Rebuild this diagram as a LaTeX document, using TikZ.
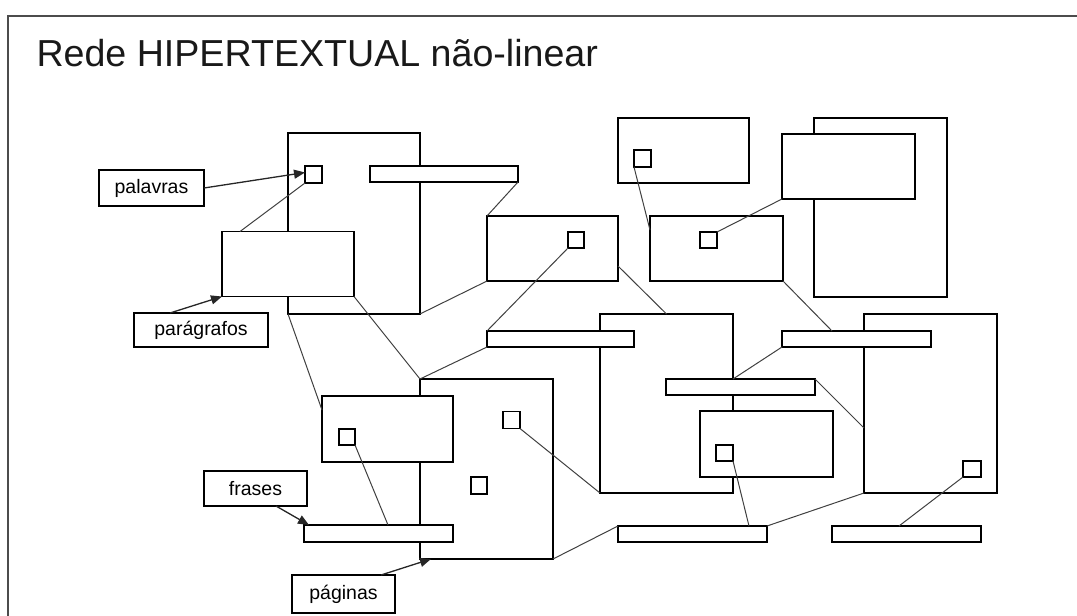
\documentclass[tikz,border=0pt]{standalone}
\usepackage{fontspec}
\setmainfont{Liberation Sans}
\usetikzlibrary{arrows.meta,calc}
\tikzset{
  shp/.style={draw=black, fill=white, line width=1.5pt, inner sep=0pt, outer sep=0pt},
  pagebox/.style={shp, minimum width=133pt, minimum height=180pt},
  parbox/.style={shp, minimum width=132pt, minimum height=65pt},
  bar/.style={shp, minimum width=148pt, minimum height=16pt},
  sq/.style={shp, minimum width=17pt, minimum height=17pt},
  lbl/.style={shp, font=\fontsize{19.5}{22}\selectfont},
  link/.style={draw=black!75, line width=1pt},
  ptr/.style={draw=black!85, line width=1.3pt, -{Triangle[length=11pt,width=9pt]}},
}
\begin{document}
\begin{tikzpicture}[x=1pt,y=-1pt]
\useasboundingbox (0,0) rectangle (1077,616);
\begin{scope}
\clip (0,0) rectangle (1077,616);
\draw[draw=black!70, line width=2pt] (7.5,15.5) rectangle (1100,640);
\end{scope}
\node[anchor=base west, font=\fontsize{37.6}{42}\selectfont, text=black!90] (title) at (33,66) {Rede HIPERTEXTUAL não-linear};

% page boxes
\node[pagebox, minimum width=132pt, minimum height=181pt] (A) at (354,223.5) {};
\node[pagebox, minimum height=179pt] (Q) at (880.5,207.5) {};
\node[pagebox, minimum height=179pt] (D) at (666.5,403.5) {};
\node[pagebox, minimum height=179pt] (L) at (930.5,403.5) {};
\node[pagebox] (E) at (486.5,469) {};

% paragraph boxes
\node[parbox] (parA) at (288,264) {};
\node[parbox, minimum width=131pt] (B) at (552.5,248.5) {};
\node[parbox, minimum width=131pt] (N) at (683.5,150.5) {};
\node[parbox, minimum width=133pt] (O) at (716.5,248.5) {};
\node[parbox, minimum width=133pt] (P) at (848.5,166.5) {};
\node[parbox, minimum width=133pt, minimum height=66pt] (I) at (766.5,444) {};
\node[parbox, minimum width=131pt, minimum height=66pt] (F) at (387.5,429) {};

% bars (sentences)
\node[bar] (barA) at (444,174) {};
\node[bar, minimum width=147pt] (barC) at (560.5,339) {};
\node[bar, minimum width=149pt] (barK) at (856.5,339) {};
\node[bar, minimum width=149pt] (barJ) at (740.5,387) {};
\node[bar, minimum width=149pt, minimum height=17pt] (barG) at (378.5,533.5) {};
\node[bar, minimum width=149pt] (barH) at (692.5,534) {};
\node[bar, minimum width=149pt] (barM) at (906.5,534) {};

% word squares
\node[sq] (sqA) at (313.5,174.5) {};
\node[sq, minimum width=16pt, minimum height=16pt] (sqB) at (576,240) {};
\node[sq] (sqN) at (642.5,158.5) {};
\node[sq, minimum height=16pt] (sqO) at (708.5,240) {};
\node[sq, minimum height=16pt] (sqI) at (724.5,453) {};
\node[sq, minimum width=18pt, minimum height=16pt] (sqL) at (972,469) {};
\node[sq, minimum width=16pt, minimum height=16pt] (sqF) at (347,437) {};
\node[sq] (sqE1) at (511.5,420) {};
\node[sq, minimum width=16pt] (sqE2) at (479,485.5) {};

% labels
\node[lbl, minimum width=105pt, minimum height=36pt] (lpal) at (151.5,188) {palavras};
\node[lbl, minimum width=134pt, minimum height=34pt] (lpar) at (201,330) {parágrafos};
\node[lbl, minimum width=103pt, minimum height=35pt] (lfra) at (255.5,488.5) {frases};
\node[lbl, minimum width=103pt, minimum height=38pt] (lpag) at (343.5,594) {páginas};

% label pointers
\draw[ptr] (lpal.east) -- ($(sqA.west)+(0,-2)$);
\draw[ptr] ($(lpar.north west)+(36,0)$) -- (parA.south west);
\draw[ptr] ($(lfra.south west)+(72,0)$) -- ($(barG.north west)+(5,0)$);
\draw[ptr] ($(lpag.north west)+(89,0)$) -- ($(E.south west)+(11,0)$);

% hypertext links
\draw[link] ($(parA.north west)+(18,0)$) -- (sqA.south west);
\draw[link] (barA.south east) -- (B.north west);
\draw[link] (A.south east) -- (B.south west);
\draw[link] (sqB.south west) -- (barC.north west);
\draw[link] ($(B.north east)+(0,50)$) -- (D.north);
\draw[link] (parA.south east) -- (E.north west);
\draw[link] (E.north west) -- (barC.south west);
\draw[link] (A.south west) -- ($(F.north west)+(0,14)$);
\draw[link] (sqF.south east) -- ($(barG.north west)+(84,0)$);
\draw[link] (sqE1.south east) -- (D.south west);
\draw[link] (E.south east) -- (barH.north west);
\draw[link] (sqI.south east) -- ($(barH.north east)+(-18,0)$);
\draw[link] (barH.north east) -- (L.south west);
\draw[link] (sqL.south west) -- ($(barM.north west)+(67,0)$);
\draw[link] ($(barJ.north west)+(67,0)$) -- (barK.south west);
\draw[link] (barJ.north east) -- ($(L.north west)+(0,114)$);
\draw[link] (sqN.south west) -- ($(O.north west)+(0,14)$);
\draw[link] (sqO.north east) -- (P.south west);
\draw[link] (O.south east) -- ($(barK.north west)+(50,0)$);
\end{tikzpicture}
\end{document}
